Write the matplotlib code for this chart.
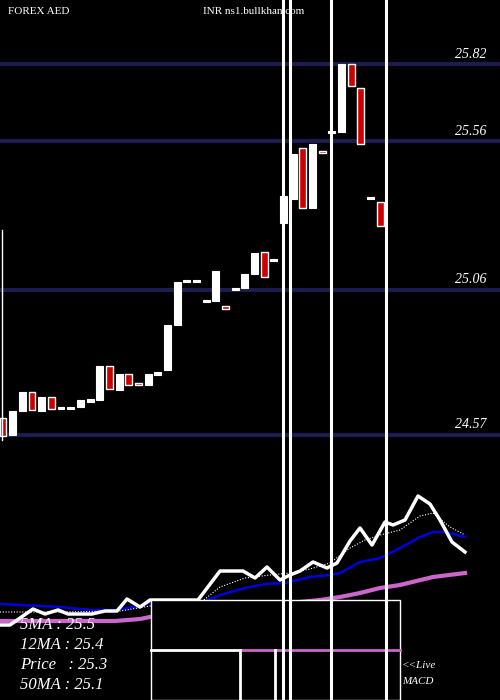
import matplotlib
matplotlib.use("Agg")
import matplotlib.pyplot as plt
from matplotlib.patches import Rectangle

opens  = [24.628,24.570,24.651,24.715,24.651,24.699,24.658,24.658,24.665,24.682,24.688,24.803,24.722,24.776,24.746,24.739,24.773,24.789,24.941,25.086,25.086,25.019,25.022,25.005,25.059,25.066,25.113,25.187,25.157,25.285,25.366,25.537,25.335,25.527,25.588,25.591,25.820,25.740,25.366,25.355]
closes = [24.567,24.651,24.715,24.655,24.699,24.658,24.658,24.658,24.688,24.692,24.803,24.725,24.776,24.739,24.739,24.776,24.783,24.941,25.086,25.086,25.086,25.019,25.123,24.995,25.066,25.113,25.184,25.103,25.157,25.376,25.517,25.335,25.551,25.521,25.588,25.820,25.746,25.551,25.366,25.275]
levels = [25.82, 25.56, 25.06, 24.57]
level_labels = ["25.82", "25.56", "25.06", "24.57"]

# indicator panel (pixel rows)
px_x   = [0,10,33,45,58,68,92,105,117,127,140,150,198,220,243,255,267,280,290,300,313,327,337,350,360,372,385,393,405,418,430,440,452,465]
px_y   = [625,625,609,614,610,614,614,611,611,599,607,600,600,571,571,578,567,580,575,571,562,568,563,541,528,545,522,525,520,496,504,520,542,552]
ma12_x = [0,60,120,150,200,220,245,270,290,310,330,350,365,380,400,420,433,450,465]
ma12_y = [612,612,611,606,603,587,578,575,573,569,563,548,540,535,530,516,513,527,535]
blue_x = [0,20,60,90,115,140,150,200,220,245,265,285,310,330,340,360,380,400,420,433,445,465]
blue_y = [604,605,607,610,610,606,603,603,595,588,584,583,577,575,573,562,558,548,537,532,532,537]
mag_x  = [0,60,115,140,150,320,340,360,380,400,433,465]
mag_y  = [621,621,621,619,617,600,597,593,588,585,577,573]
info = ["5MA : 25.5", "12MA : 25.4", "Price   : 25.3", "50MA : 25.1"]

fig = plt.figure(figsize=(5, 7), dpi=100, facecolor="black")
serif = ["Liberation Serif", "DejaVu Serif"]

ax = fig.add_axes([0, 1 - 440/700, 1, 440/700])
ax.set_facecolor("black")
ax.set_xlim(-0.31, 51.4)
ax.set_ylim(24.553, 26.036)
ax.axis("off")
for lv, lb in zip(levels, level_labels):
    ax.axhline(lv, color="#1c1c50", lw=3, zorder=1)
    ax.text(48.4, lv + 0.012, lb, color="white", fontsize=10, style="italic",
            family=serif, ha="center", va="bottom")
for i, (o, c) in enumerate(zip(opens, closes)):
    lo, hi = min(o, c), max(o, c)
    h = max(hi - lo, 0.006)
    if c >= o:
        ax.add_patch(Rectangle((i - 0.36, lo), 0.72, h, facecolor="white", edgecolor="white", lw=0.8, zorder=3))
    else:
        ax.add_patch(Rectangle((i - 0.36, lo), 0.72, h, facecolor="#cc0000", edgecolor="white", lw=1, zorder=3))

ax2 = fig.add_axes([0, 0, 1, 1], facecolor="none")
ax2.set_xlim(0, 500)
ax2.set_ylim(700, 0)
ax2.axis("off")
ax2.plot(mag_x, mag_y, color="#cc66cc", lw=3, zorder=2)
ax2.plot(blue_x, blue_y, color="#0000dd", lw=1.8, zorder=2)
ax2.plot(ma12_x, ma12_y, color="white", lw=0.8, ls=(0, (1, 1.5)), zorder=2)
ax2.plot(px_x, px_y, color="white", lw=2.5, zorder=2)
ax2.add_patch(Rectangle((151, 600), 249, 100, facecolor="black", edgecolor="white", lw=1, zorder=4))
ax2.plot([151, 240], [650, 650], color="white", lw=2, zorder=5)
ax2.plot([240, 400], [650, 650], color="#cc66cc", lw=2, zorder=5)
for vx in [240, 275]:
    ax2.plot([vx, vx], [650, 700], color="white", lw=2, zorder=5)
for vx in [283, 290, 331, 386]:
    ax2.plot([vx, vx], [0, 700], color="white", lw=2.2, zorder=6)
ax2.plot([2, 2], [230, 440], color="white", lw=1, zorder=6)
ax2.text(8, 12, "FOREX AED", color="white", fontsize=8, family=serif, va="center")
ax2.text(203, 12, "INR ns1.bullkhan.com", color="white", fontsize=8, family=serif, va="center")
for k, t in enumerate(info):
    ax2.text(20, 625 + 20 * k, t, color="white", fontsize=12, style="italic", family=serif, va="center", zorder=7)
ax2.text(402, 666, "<<Live", color="white", fontsize=8, style="italic", family=serif, va="center")
ax2.text(402, 681, "MACD", color="white", fontsize=8, style="italic", family=serif, va="center")

fig.savefig("out.png", dpi=100, facecolor="black")
